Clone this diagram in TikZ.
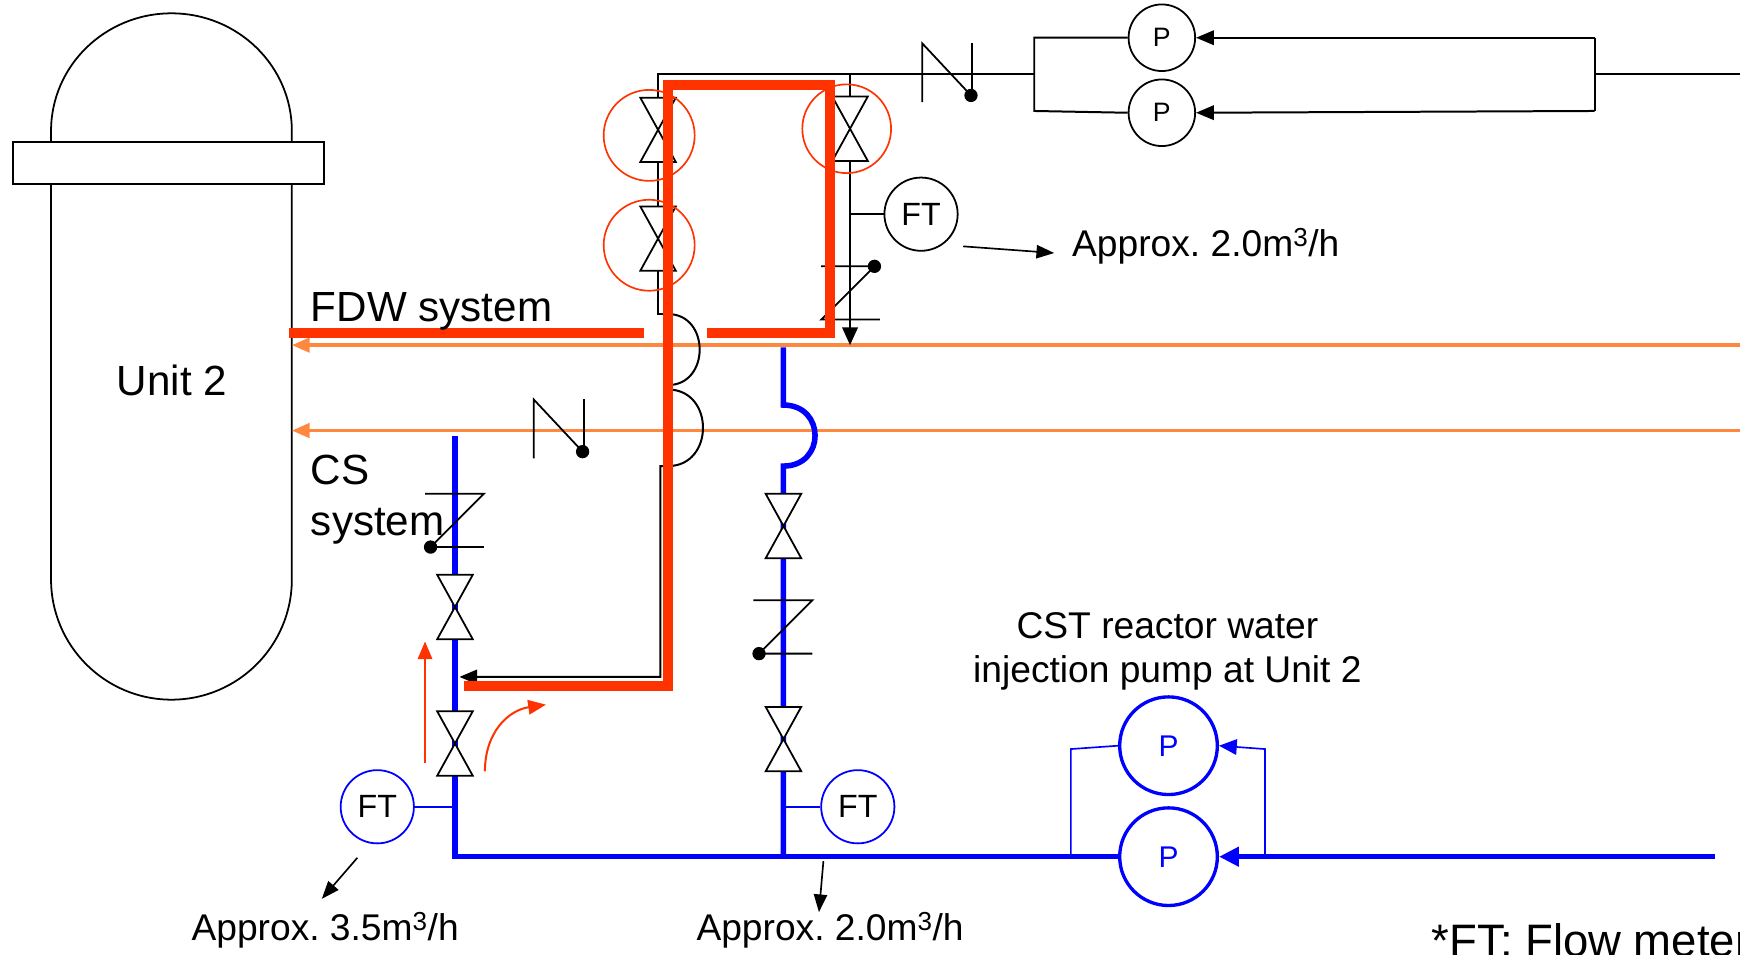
\documentclass[tikz,border=0pt]{standalone}
\usepackage{fontspec}
\setmainfont{Liberation Sans}
\usepackage{pgf,tikz}
\usetikzlibrary{arrows.meta, positioning}
\frenchspacing
\definecolor{fdwred}{RGB}{255,51,0}
\definecolor{lineorange}{RGB}{255,136,64}
\definecolor{csblue}{RGB}{0,0,255}
\tikzstyle{vessel} = [draw=black, line width=1.6pt]
\tikzstyle{redpipe} = [draw=fdwred, line width=9pt]
\tikzstyle{orangepipe} = [draw=lineorange, line width=3pt, -{Triangle[length=16pt,width=13pt]}]
\tikzstyle{bluepipe} = [draw=csblue, line width=5pt]
\tikzstyle{thinblue} = [draw=csblue, line width=1.5pt]
\tikzstyle{blackpipe} = [draw=black, line width=1.8pt]
\tikzstyle{valveline} = [draw=black, line width=1.6pt, fill=white]
\tikzstyle{markcircle} = [draw=fdwred, line width=1.5pt]
\tikzstyle{ftblack} = [circle, draw=black, line width=1.6pt, minimum size=66pt, inner sep=0pt, font=\fontsize{29}{30}\selectfont]
\tikzstyle{ftblue} = [ftblack, draw=csblue]
\tikzstyle{pumpblack} = [circle, draw=black, line width=1.6pt, minimum size=60pt, inner sep=0pt, font=\fontsize{24}{26}\selectfont]
\tikzstyle{pumpblue} = [circle, draw=csblue, text=csblue, line width=3pt, minimum size=88pt, inner sep=0pt, font=\fontsize{27}{28}\selectfont]
\tikzstyle{bigtext} = [font=\fontsize{38}{46}\selectfont, inner sep=0pt]
\tikzstyle{smalltext} = [font=\fontsize{33.5}{39}\selectfont, inner sep=0pt]
\tikzstyle{leader} = [draw=black, line width=1.5pt, -{Triangle[length=16pt,width=12pt]}]
\tikzstyle{flowarrow} = [draw=fdwred, line width=1.8pt, -{Triangle[length=16pt,width=13pt]}]
\newcommand{\gatevalve}[1]{\draw[valveline, shift={#1}] (-16,-29) -- (16,-29) -- (-16,29) -- (16,29) -- cycle;}
\newcommand{\zcheck}[2]{\begin{scope}[shift={#1}, rotate=#2]
  \draw[valveline, fill=none] (-27,-24) -- (26,-24) -- (-22,24) -- (26,24);
  \fill (-22,24) circle (6pt);
\end{scope}}
\newcommand{\ncheck}[1]{\begin{scope}[shift={#1}]
  \draw[valveline, fill=none] (-23,25) -- (-23,-28) -- (21,19);
  \draw[valveline] (22,-28) -- (22,15);
  \fill (21,19) circle (6pt);
\end{scope}}
\begin{document}
\begin{tikzpicture}[x=1pt, y=-1pt]
\useasboundingbox (0,0) rectangle (1568,860);
% reactor
\draw[vessel] (46,128) -- (46,118) arc[start angle=180, end angle=0, x radius=108.5pt, y radius=106pt] -- (263,128);
\draw[vessel] (12,128) rectangle (292,166);
\draw[vessel] (46,166) -- (46,522) arc[start angle=180, end angle=360, radius=108.5pt] -- (263,166);
\node[bigtext] (unit) at (155,343) {Unit 2};
% injection lines into the vessel
\coordinate (wallfdw) at (263,311);
\coordinate (wallcs) at (263,388);
\draw[orangepipe] (1568,311) -- (wallfdw);
\draw[orangepipe] (1568,388) -- (wallcs);
\ncheck{(504,388)}
% black line from the top pumps
\node[pumpblack] (pa) at (1047,34) {P};
\node[pumpblack, below=6pt of pa] (pb) {P};
\coordinate (tl) at (593,67);
\coordinate (tr) at (766,67);
\coordinate (bj) at (932,67);
\draw[blackpipe] (pa.west) -- (932,34) -- (932,100) -- (pb.west);
\draw[blackpipe, -{Triangle[length=16pt,width=13pt]}] (1437,34) -- (pa.east);
\draw[blackpipe, -{Triangle[length=16pt,width=13pt]}] (1437,100) -- (pb.east);
\draw[blackpipe] (1437,34) -- (1437,100);
\draw[blackpipe] (1437,67) -- (1568,67);
\draw[blackpipe] (602,283) -- (593,283) -- (tl) -- (bj);
\ncheck{(854,67)}
\draw[blackpipe, -{Triangle[length=16pt,width=14pt]}] (tr) -- (766,311);
\node[ftblack] (fta) at (830,193) {FT};
\draw[blackpipe] (766,193) -- (fta.west);
\node[smalltext, anchor=west] (flowa) at (966,222) {Approx. 2.0m\textsuperscript{3}/h};
\draw[leader] (868,222) -- (950,228);
\draw[blackpipe, -{Triangle[length=16pt,width=13pt]}] (602,283) .. controls (640,283) and (640,347) .. (602,347) -- (602,351)
  .. controls (644,351) and (644,420) .. (602,420) -- (595,420) -- (595,610) -- (414,610);
\gatevalve{(593,117)}
\gatevalve{(593,215)}
\gatevalve{(766,116)}
\zcheck{(766,264)}{180}
% blue CS side
\node[pumpblue] (pl) at (1053,772) {P};
\node[pumpblue, above=9pt of pl] (pu) {P};
\coordinate (csb) at (410,772);
\draw[bluepipe] (410,393) -- (csb) -- (pl.west);
\draw[bluepipe] (706,313) -- (706,365) .. controls (744,365) and (744,420) .. (706,420) -- (706,772);
\draw[bluepipe, -{Triangle[length=18pt,width=17pt]}] (1545,772) -- (pl.east);
\draw[thinblue] (965,772) -- (965,675) -- (pu.west);
\draw[thinblue, -{Triangle[length=16pt,width=14pt]}] (1140,772) -- (1140,675) -- (pu.east);
\zcheck{(410,469)}{0}
\gatevalve{(410,547)}
\gatevalve{(410,670)}
\gatevalve{(706,474)}
\zcheck{(706,565)}{0}
\gatevalve{(706,666)}
\node[ftblue] (ftb) at (340,727) {FT};
\draw[thinblue] (ftb.east) -- (410,727);
\node[ftblue] (ftc) at (773,727) {FT};
\draw[thinblue] (706,727) -- (ftc.west);
% FDW route
\draw[redpipe] (260,300) -- (580,300);
\draw[redpipe] (637,300) -- (748,300) -- (748,77) -- (602,77) -- (602,618) -- (418,618);
\draw[markcircle] (585,122) circle (41pt);
\draw[markcircle] (585,221) circle (41pt);
\draw[markcircle] (763,116) circle (40pt);
\draw[flowarrow] (383,688) -- (383,578);
\draw[flowarrow] (437,695) .. controls (437,660) and (458,640) .. (492,635);
% labels
\node[bigtext, anchor=base west] (fdwlbl) at (280,290) {FDW system};
\node[bigtext, anchor=north west, align=left] (cslbl) at (280,410) {CS\\system};
\node[smalltext, align=center] (cstlbl) at (1052,587) {CST reactor water\\injection pump at Unit 2};
\node[smalltext] (flowb) at (293,838) {Approx. 3.5m\textsuperscript{3}/h};
\node[smalltext] (flowc) at (748,838) {Approx. 2.0m\textsuperscript{3}/h};
\node[font=\fontsize{41}{46}\selectfont, inner sep=0pt, anchor=west] (ftnote) at (1290,847) {*FT: Flow meter};
\draw[leader] (322,773) -- (290,810);
\draw[leader] (742,776) -- (738,822);
\end{tikzpicture}
\end{document}
